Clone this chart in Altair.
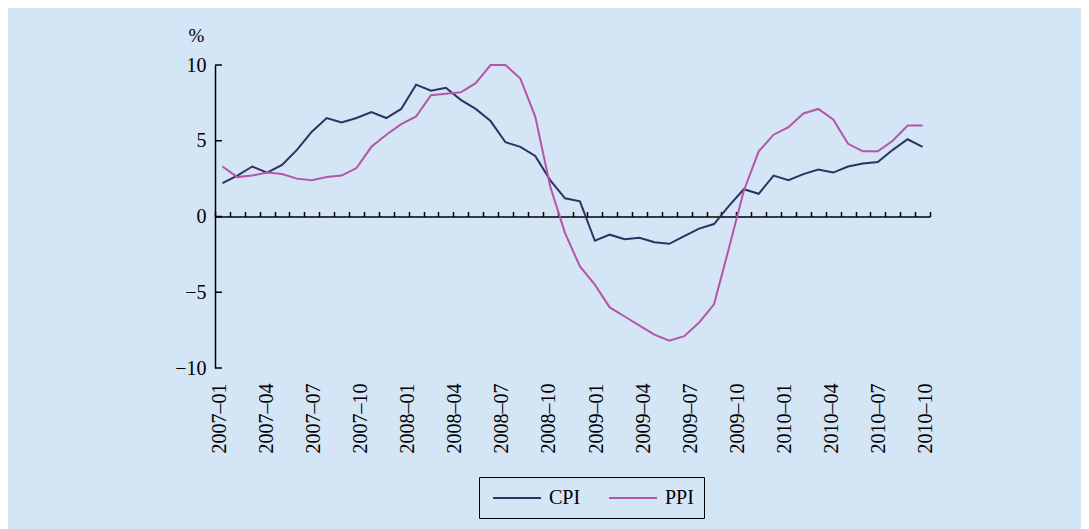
import altair as alt
import pandas as pd

# Monthly data, 2007-01 .. 2010-12 (48 months)
months = [f"{y}-{m:02d}" for y in range(2007, 2011) for m in range(1, 13)]
cpi = [2.2, 2.7, 3.3, 2.9, 3.4, 4.4, 5.6, 6.5, 6.2, 6.5, 6.9, 6.5,
       7.1, 8.7, 8.3, 8.5, 7.7, 7.1, 6.3, 4.9, 4.6, 4.0, 2.4, 1.2,
       1.0, -1.6, -1.2, -1.5, -1.4, -1.7, -1.8, -1.3, -0.8, -0.5, 0.7, 1.8,
       1.5, 2.7, 2.4, 2.8, 3.1, 2.9, 3.3, 3.5, 3.6, 4.4, 5.1, 4.6]
ppi = [3.3, 2.6, 2.7, 2.9, 2.8, 2.5, 2.4, 2.6, 2.7, 3.2, 4.6, 5.4,
       6.1, 6.6, 8.0, 8.1, 8.2, 8.8, 10.0, 10.0, 9.1, 6.6, 2.0, -1.1,
       -3.3, -4.5, -6.0, -6.6, -7.2, -7.8, -8.2, -7.9, -7.0, -5.8, -2.1, 1.7,
       4.3, 5.4, 5.9, 6.8, 7.1, 6.4, 4.8, 4.3, 4.3, 5.0, 6.0, 6.0]
series_names = ["CPI", "PPI"]
series_colors = ["#2e3163", "#b356a9"]
x_labels = ["2007–01", "2007–04", "2007–07", "2007–10",
            "2008–01", "2008–04", "2008–07", "2008–10",
            "2009–01", "2009–04", "2009–07", "2009–10",
            "2010–01", "2010–04", "2010–07", "2010–10"]
y_ticks = [-10, -5, 0, 5, 10]

df = pd.DataFrame({
    "month": months * 2,
    "value": cpi + ppi,
    "series": [series_names[0]] * len(cpi) + [series_names[1]] * len(ppi),
})
lab_df = pd.DataFrame({"label": x_labels})
tick_df = pd.DataFrame({"value": y_ticks})

FONT = "Liberation Serif"
W, H = 715, 303

y_scale = alt.Scale(domain=[-10, 10], nice=False, zero=False)
y_axis = alt.Axis(values=y_ticks, title="%", titleAngle=0, titleX=-19, titleY=-30,
                  titleAlign="center", titleBaseline="middle", titleFont=FONT,
                  titleFontSize=19, titleFontWeight="normal", titleColor="black",
                  labelFont=FONT, labelFontSize=20, labelColor="black", labelPadding=9,
                  ticks=False, tickSize=0, domainColor="black", domainWidth=1.5,
                  grid=False)

lines = alt.Chart(df).mark_line(strokeWidth=2).encode(
    x=alt.X("month:O", sort=None, bandPosition=0.5,
            scale=alt.Scale(type="band", paddingInner=0, paddingOuter=0),
            axis=alt.Axis(orient="top", offset=-H / 2, labels=False, title=None,
                          tickBand="extent", tickSize=5, tickColor="black",
                          tickWidth=1.5, domainColor="black", domainWidth=1.5,
                          grid=False)),
    y=alt.Y("value:Q", scale=y_scale, axis=y_axis),
    color=alt.Color("series:N",
                    scale=alt.Scale(domain=series_names, range=series_colors),
                    legend=alt.Legend(title=None, orient="none", legendX=264, legendY=412,
                                      direction="horizontal",
                                      symbolType="M-2.4,0H2.4",
                                      symbolSize=400, symbolStrokeWidth=2,
                                      symbolOffset=17,
                                      labelFont=FONT, labelFontSize=20,
                                      labelColor="black", labelOffset=21,
                                      columnPadding=24, padding=10,
                                      strokeColor="black")),
)

yticks_in = alt.Chart(tick_df).mark_rule(color="black", strokeWidth=1.5).encode(
    y=alt.Y("value:Q", scale=y_scale, axis=y_axis),
    x=alt.value(0),
    x2=alt.value(7),
)

label_axis = alt.Chart(lab_df).mark_point(opacity=0).encode(
    x=alt.X("label:O", sort=None, scale=alt.Scale(type="point", padding=0.1),
            axis=alt.Axis(orient="bottom", labelAngle=-90, labelFont=FONT,
                          labelFontSize=20, labelColor="black", labelPadding=15,
                          ticks=False, tickSize=0, domain=False, title=None,
                          grid=False)),
    y=alt.value(0),
)

chart = alt.layer(label_axis, yticks_in, lines).resolve_scale(
    x="independent"
).properties(
    width=W, height=H,
    padding={"left": 207, "top": 57, "right": 151, "bottom": 161},
    autosize=alt.AutoSizeParams(type="none"),
    background="#d4e5f5",
).configure_view(strokeWidth=0)

chart.save("out.html", embed_options={"renderer": "svg", "actions": False})
